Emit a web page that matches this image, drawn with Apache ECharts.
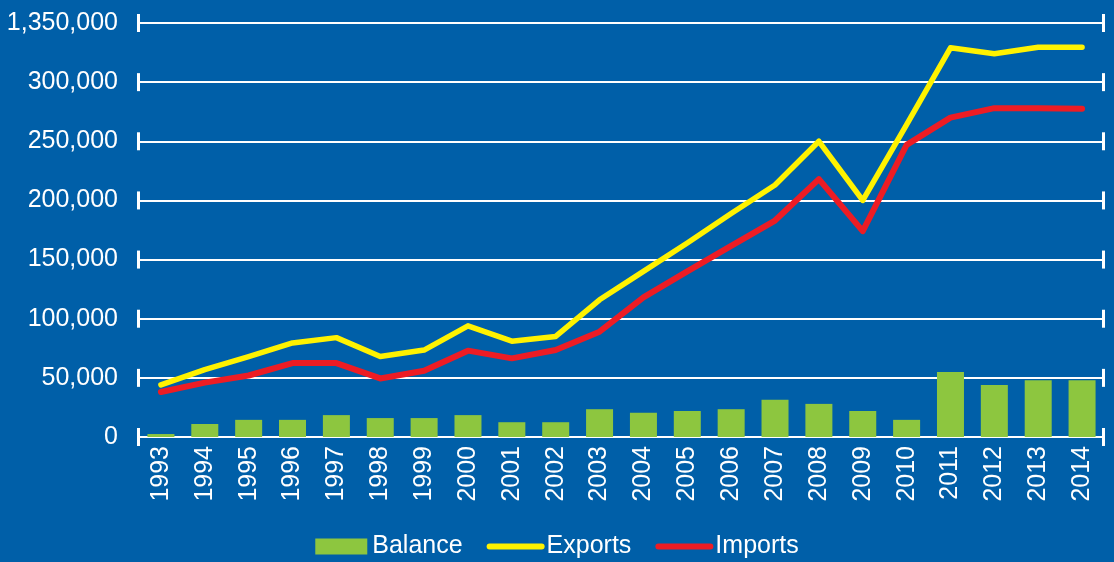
<!DOCTYPE html>
<html>
<head>
<meta charset="utf-8">
<script src="https://cdn.jsdelivr.net/npm/echarts@6/dist/echarts.min.js"></script>
<style>
  html, body { margin: 0; padding: 0; background: #005fa8; }
  #chart { width: 1114px; height: 562px; }
</style>
</head>
<body>
<div id="chart"></div>
<script>
// values
var years = ["1993","1994","1995","1996","1997","1998","1999","2000","2001","2002","2003",
             "2004","2005","2006","2007","2008","2009","2010","2011","2012","2013","2014"];
var balance = [2500, 11000, 14500, 14500, 18500, 16000, 16000, 18500, 12500, 12500, 23500,
               20500, 22000, 23500, 31500, 28000, 22000, 14500, 55000, 44000, 48000, 48000];
var exportsData = [44000, 57000, 68000, 79500, 84000, 68000, 73500, 94000, 81000, 85000, 116000,
                   140000, 164000, 189000, 213000, 250000, 200000, 264000, 329000, 324000, 329500, 329500];
var importsData = [38000, 46000, 52000, 62500, 62500, 49500, 56000, 73000, 66500, 73500, 89000,
                   118000, 140000, 161500, 183000, 218000, 174000, 247000, 270000, 278000, 278000, 277500];
var yTicks = [0, 50000, 100000, 150000, 200000, 250000, 300000, 350000];

var font = "Liberation Sans";
var chart = echarts.init(document.getElementById("chart"));

var option = {
  backgroundColor: "#005fa8",
  animation: false,
  grid: { left: 139, right: 10, top: 23, bottom: 125 },
  legend: {
    data: [
      { name: "Balance", icon: "rect" },
      { name: "Exports", itemStyle: { opacity: 0 }, lineStyle: { width: 6, cap: "round" } },
      { name: "Imports", itemStyle: { opacity: 0 }, lineStyle: { width: 6, cap: "round" } }
    ],
    top: 529,
    left: "center",
    itemWidth: 52,
    itemHeight: 16,
    itemGap: 24,
    textStyle: { color: "#fff", fontSize: 25, fontFamily: font }
  },
  xAxis: {
    type: "category",
    data: years,
    axisLine: { lineStyle: { color: "#fff", width: 2 } },
    axisTick: { show: false },
    axisLabel: { color: "#fff", fontSize: 25, fontFamily: font, rotate: 90, margin: 9, interval: 0 }
  },
  yAxis: {
    type: "value",
    min: 0,
    max: 350000,
    interval: 50000,
    axisLine: { show: false },
    axisTick: { show: false },
    splitLine: { lineStyle: { color: "#fff", width: 2 } },
    axisLabel: {
      color: "#fff", fontSize: 25, fontFamily: font, margin: 21,
      formatter: function (v) {
        // the top label reads like this in the source
        if (v === 350000) return "1,350,000";
        return v.toLocaleString("en-US");
      }
    }
  },
  series: [
    {
      name: "Balance",
      type: "bar",
      data: balance,
      barWidth: 27,
      itemStyle: { color: "#8dc63f" }
    },
    {
      name: "Exports",
      type: "line",
      data: exportsData,
      symbol: "none",
      itemStyle: { color: "#fff200" },
      lineStyle: { color: "#fff200", width: 5.5, cap: "round", join: "round" },
      z: 4
    },
    {
      name: "Imports",
      type: "line",
      data: importsData,
      symbol: "none",
      itemStyle: { color: "#ed1c24" },
      lineStyle: { color: "#ed1c24", width: 6, cap: "round", join: "round" },
      z: 3
    },
    {
      // little end caps on each grid line
      name: "caps",
      type: "custom",
      silent: true,
      z: 5,
      data: yTicks.map(function (v) { return [0, v]; }),
      renderItem: function (params, api) {
        var cs = params.coordSys;
        var y = api.coord([0, api.value(1)])[1];
        var style = { fill: "#fff" };
        return {
          type: "group",
          children: [
            { type: "rect", shape: { x: cs.x - 2, y: y - 9, width: 3, height: 18 }, style: style },
            { type: "rect", shape: { x: cs.x + cs.width - 2, y: y - 9, width: 3, height: 18 }, style: style }
          ]
        };
      }
    }
  ]
};

chart.setOption(option);
</script>
</body>
</html>
